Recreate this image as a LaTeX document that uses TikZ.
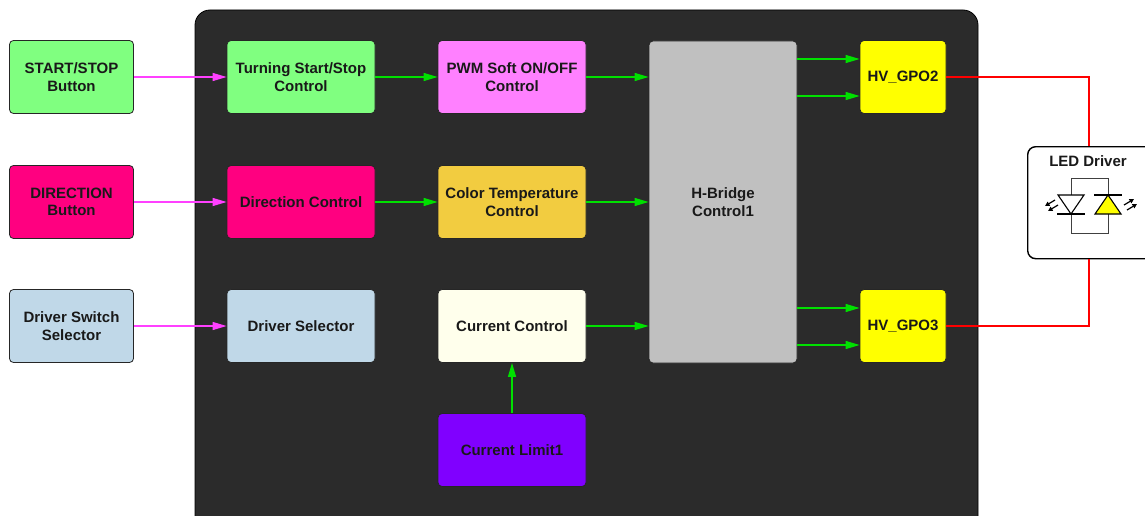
\documentclass[tikz,border=0pt]{standalone}
\usepackage{fontspec}
\setmainfont{Liberation Sans}
\usetikzlibrary{arrows.meta,calc}
\definecolor{bgdark}{HTML}{2B2B2B}
\definecolor{cgreen}{HTML}{80FF80}
\definecolor{cpink}{HTML}{FF0080}
\definecolor{cblue}{HTML}{C0D8E8}
\definecolor{cviolet}{HTML}{FF80FF}
\definecolor{corange}{HTML}{F2CC40}
\definecolor{ccream}{HTML}{FFFFEC}
\definecolor{cpurple}{HTML}{8000FF}
\definecolor{cgray}{HTML}{C0C0C0}
\definecolor{cyellow}{HTML}{FFFF00}
\definecolor{lgreen}{HTML}{00E000}
\definecolor{lmag}{HTML}{FF40FF}
\tikzset{
  blk/.style={draw=black!85, line width=0.8pt, rounded corners=4pt, align=center,
    font=\fontsize{15}{17.5}\selectfont\bfseries, text=black!90,
    minimum width=148pt, minimum height=73pt, inner sep=2pt},
  inblk/.style={blk, minimum width=124pt},
  hvblk/.style={blk, minimum width=86pt},
  garrow/.style={draw=lgreen, line width=1.2pt, -{Triangle[length=14pt,width=8pt]}},
  marrow/.style={draw=lmag, line width=1.2pt, -{Triangle[length=14pt,width=8pt]}},
  rline/.style={draw=red, line width=2pt},
  wire/.style={draw=black!75, line width=0.9pt},
}
\begin{document}
\begin{tikzpicture}[x=1pt,y=-1pt]
\useasboundingbox (0,0) rectangle (1145,516);
\fill[white] (0,0) rectangle (1145,516);
\filldraw[fill=bgdark, draw=black, line width=0.8pt, rounded corners=15pt] (195,10) rectangle (978,540);

% input buttons
\node[inblk, fill=cgreen] (ss) at (71.5,77) {START/STOP\\Button};
\node[inblk, fill=cpink] (dir) at (71.5,202) {DIRECTION\\Button};
\node[inblk, fill=cblue] (dss) at (71.5,326) {Driver Switch\\Selector};

% column 2
\node[blk, fill=cgreen] (tss) at (301,77) {Turning Start/Stop\\Control};
\node[blk, fill=cpink] (dc) at (301,202) {Direction Control};
\node[blk, fill=cblue] (ds) at (301,326) {Driver Selector};

% column 3
\node[blk, fill=cviolet] (pwm) at (512,77) {PWM Soft ON/OFF\\Control};
\node[blk, fill=corange] (ct) at (512,202) {Color Temperature\\Control};
\node[blk, fill=ccream] (cc) at (512,326) {Current Control};
\node[blk, fill=cpurple] (cl) at (512,450) {Current Limit1};

% H-bridge
\node[blk, fill=cgray, minimum height=322pt] (hb) at (723,202) {H-Bridge\\Control1};

% outputs
\node[hvblk, fill=cyellow] (hv2) at (903,77) {HV\_GPO2};
\node[hvblk, fill=cyellow] (hv3) at (903,326) {HV\_GPO3};

% LED driver
\node[draw=black, line width=1.4pt, rounded corners=8pt, fill=white,
  minimum width=140pt, minimum height=112pt, anchor=north west] (led) at (1027,146) {};
\node[font=\fontsize{15}{17.5}\selectfont\bfseries, text=black!90] (ledt) at (1088,161) {LED Driver};

% magenta arrows
\draw[marrow] (ss.east) -- (tss.west);
\draw[marrow] (dir.east) -- (dc.west);
\draw[marrow] (dss.east) -- (ds.west);

% green arrows
\draw[garrow] (tss.east) -- (pwm.west);
\draw[garrow] (dc.east) -- (ct.west);
\draw[garrow] (pwm.east) -- (pwm.east -| hb.west);
\draw[garrow] (ct.east) -- (ct.east -| hb.west);
\draw[garrow] (cc.east) -- (cc.east -| hb.west);
\draw[garrow] (cl.north) -- (cc.south);
\draw[garrow] ([yshift=18pt]hv2.west -| hb.east) -- ([yshift=18pt]hv2.west);
\draw[garrow] ([yshift=-19pt]hv2.west -| hb.east) -- ([yshift=-19pt]hv2.west);
\draw[garrow] ([yshift=18pt]hv3.west -| hb.east) -- ([yshift=18pt]hv3.west);
\draw[garrow] ([yshift=-19pt]hv3.west -| hb.east) -- ([yshift=-19pt]hv3.west);

% red lines
\coordinate (r1) at (1089,77);
\coordinate (r2) at (1089,326);
\draw[rline] (hv2.east) -- (r1) -- (r1 |- led.north);
\draw[rline] (hv3.east) -- (r2) -- (r2 |- led.south);

% LED symbol
\coordinate (wtl) at (1071,178);
\coordinate (wbr) at (1108,233);
\draw[wire] (wtl) rectangle (wbr);
% left diode (pointing down)
\filldraw[fill=white, draw=black, line width=1.1pt] (1058,195) -- (1084,195) -- (1071,214) -- cycle;
\draw[black, line width=1.8pt] (1057,214) -- (1085,214);
% right diode (pointing up, yellow)
\filldraw[fill=cyellow, draw=black, line width=1.1pt] (1095,214) -- (1121,214) -- (1108,195) -- cycle;
\draw[black, line width=1.8pt] (1094,195) -- (1122,195);
% emission arrows
\draw[black, line width=1.2pt, -{Triangle[length=4.5pt,width=4.5pt]}] (1055,200) -- (1045,206);
\draw[black, line width=1.2pt, -{Triangle[length=4.5pt,width=4.5pt]}] (1058,205) -- (1048,211);
\draw[black, line width=1.2pt, -{Triangle[length=4.5pt,width=4.5pt]}] (1124,205) -- (1134,199);
\draw[black, line width=1.2pt, -{Triangle[length=4.5pt,width=4.5pt]}] (1127,210) -- (1137,204);
\end{tikzpicture}
\end{document}
